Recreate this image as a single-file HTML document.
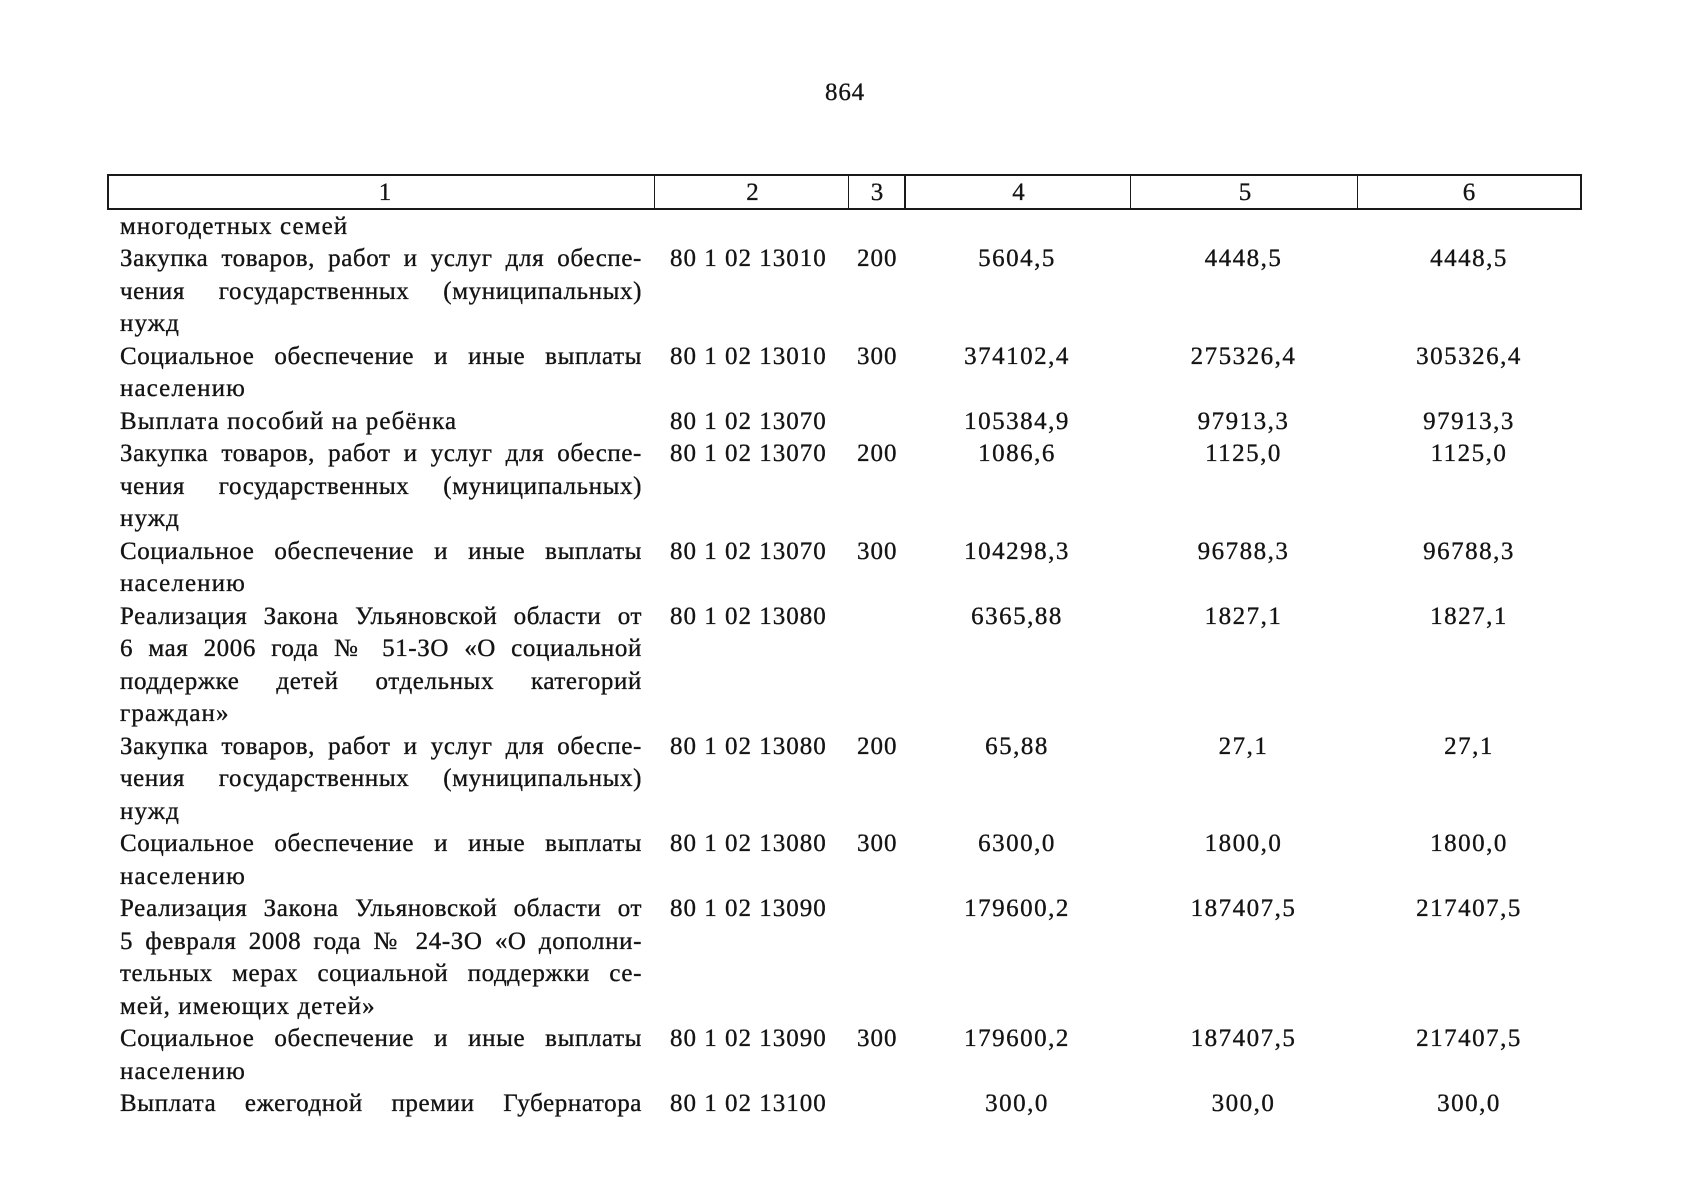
<!DOCTYPE html>
<html>
<head>
<meta charset="utf-8">
<style>
  html, body { margin:0; padding:0; background:#fff; }
  body { width:1698px; height:1200px; position:relative; overflow:hidden;
         font-family:"Liberation Serif", "Noto Serif CJK SC", serif; color:#141414; }
  .pn { position:absolute; left:795px; width:100px; top:77px; line-height:32px; font-size:25px; text-align:center; letter-spacing:0.8px; -webkit-text-stroke:0.3px #141414; }
  .ln { position:absolute; background:#1a1a1a; }
  .h { position:absolute; top:177px; height:32px; line-height:32px; font-size:25px; text-align:center; -webkit-text-stroke:0.3px #141414; }
  .r { position:absolute; left:0; width:1698px; height:32.5px; line-height:32.5px; font-size:25px; -webkit-text-stroke:0.35px #141414; }
  .r span { position:absolute; top:0; white-space:nowrap; }
  .r .t { left:120px; width:522px; letter-spacing:1.1px; }
  .r .t.j { text-align:justify; text-align-last:justify; letter-spacing:0.6px; white-space:normal; }
  .r .c2 { left:670px; letter-spacing:1.0px; }
  .r .c3 { left:857px; letter-spacing:1.0px; }
  .r .c4 { left:904px; width:226px; text-align:center; letter-spacing:1.5px; }
  .r .c5 { left:1130px; width:227px; text-align:center; letter-spacing:1.5px; }
  .r .c6 { left:1357px; width:224px; text-align:center; letter-spacing:1.5px; }
</style>
</head>
<body>
<div class="pn">864</div>

<!-- header table lines -->
<div class="ln" style="left:107px; top:174px; width:1474px; height:2px;"></div>
<div class="ln" style="left:107px; top:207.5px; width:1474px; height:2px;"></div>
<div class="ln" style="left:106.5px; top:174px; width:2px; height:35.5px;"></div>
<div class="ln" style="left:1579.5px; top:174px; width:2px; height:35.5px;"></div>
<div class="ln" style="left:653.5px; top:175px; width:1.5px; height:34px;"></div>
<div class="ln" style="left:847.5px; top:175px; width:1.5px; height:34px;"></div>
<div class="ln" style="left:904px; top:175px; width:1.5px; height:34px;"></div>
<div class="ln" style="left:1129.5px; top:175px; width:1.5px; height:34px;"></div>
<div class="ln" style="left:1356.5px; top:175px; width:1.5px; height:34px;"></div>

<div class="h" style="left:112px; width:546px;">1</div>
<div class="h" style="left:656px; width:193px;">2</div>
<div class="h" style="left:849px; width:56px;">3</div>
<div class="h" style="left:906px; width:225px;">4</div>
<div class="h" style="left:1132px; width:226px;">5</div>
<div class="h" style="left:1358px; width:222px;">6</div>

<div class="r" style="top:210.6px"><span class="t">многодетных семей</span></div>
<div class="r" style="top:243.1px"><span class="t j">Закупка товаров, работ и услуг для обеспе-</span><span class="c2">80 1 02 13010</span><span class="c3">200</span><span class="c4">5604,5</span><span class="c5">4448,5</span><span class="c6">4448,5</span></div>
<div class="r" style="top:275.6px"><span class="t j">чения государственных (муниципальных)</span></div>
<div class="r" style="top:308.1px"><span class="t">нужд</span></div>
<div class="r" style="top:340.6px"><span class="t j">Социальное обеспечение и иные выплаты</span><span class="c2">80 1 02 13010</span><span class="c3">300</span><span class="c4">374102,4</span><span class="c5">275326,4</span><span class="c6">305326,4</span></div>
<div class="r" style="top:373.1px"><span class="t">населению</span></div>
<div class="r" style="top:405.6px"><span class="t">Выплата пособий на ребёнка</span><span class="c2">80 1 02 13070</span><span class="c4">105384,9</span><span class="c5">97913,3</span><span class="c6">97913,3</span></div>
<div class="r" style="top:438.1px"><span class="t j">Закупка товаров, работ и услуг для обеспе-</span><span class="c2">80 1 02 13070</span><span class="c3">200</span><span class="c4">1086,6</span><span class="c5">1125,0</span><span class="c6">1125,0</span></div>
<div class="r" style="top:470.6px"><span class="t j">чения государственных (муниципальных)</span></div>
<div class="r" style="top:503.1px"><span class="t">нужд</span></div>
<div class="r" style="top:535.6px"><span class="t j">Социальное обеспечение и иные выплаты</span><span class="c2">80 1 02 13070</span><span class="c3">300</span><span class="c4">104298,3</span><span class="c5">96788,3</span><span class="c6">96788,3</span></div>
<div class="r" style="top:568.1px"><span class="t">населению</span></div>
<div class="r" style="top:600.6px"><span class="t j">Реализация Закона Ульяновской области от</span><span class="c2">80 1 02 13080</span><span class="c4">6365,88</span><span class="c5">1827,1</span><span class="c6">1827,1</span></div>
<div class="r" style="top:633.1px"><span class="t j">6 мая 2006 года №&nbsp;51-ЗО «О социальной</span></div>
<div class="r" style="top:665.6px"><span class="t j">поддержке детей отдельных категорий</span></div>
<div class="r" style="top:698.1px"><span class="t">граждан»</span></div>
<div class="r" style="top:730.6px"><span class="t j">Закупка товаров, работ и услуг для обеспе-</span><span class="c2">80 1 02 13080</span><span class="c3">200</span><span class="c4">65,88</span><span class="c5">27,1</span><span class="c6">27,1</span></div>
<div class="r" style="top:763.1px"><span class="t j">чения государственных (муниципальных)</span></div>
<div class="r" style="top:795.6px"><span class="t">нужд</span></div>
<div class="r" style="top:828.1px"><span class="t j">Социальное обеспечение и иные выплаты</span><span class="c2">80 1 02 13080</span><span class="c3">300</span><span class="c4">6300,0</span><span class="c5">1800,0</span><span class="c6">1800,0</span></div>
<div class="r" style="top:860.6px"><span class="t">населению</span></div>
<div class="r" style="top:893.1px"><span class="t j">Реализация Закона Ульяновской области от</span><span class="c2">80 1 02 13090</span><span class="c4">179600,2</span><span class="c5">187407,5</span><span class="c6">217407,5</span></div>
<div class="r" style="top:925.6px"><span class="t j">5 февраля 2008 года №&nbsp;24-ЗО «О дополни-</span></div>
<div class="r" style="top:958.1px"><span class="t j">тельных мерах социальной поддержки се-</span></div>
<div class="r" style="top:990.6px"><span class="t">мей, имеющих детей»</span></div>
<div class="r" style="top:1023.1px"><span class="t j">Социальное обеспечение и иные выплаты</span><span class="c2">80 1 02 13090</span><span class="c3">300</span><span class="c4">179600,2</span><span class="c5">187407,5</span><span class="c6">217407,5</span></div>
<div class="r" style="top:1055.6px"><span class="t">населению</span></div>
<div class="r" style="top:1088.1px"><span class="t j">Выплата ежегодной премии Губернатора</span><span class="c2">80 1 02 13100</span><span class="c4">300,0</span><span class="c5">300,0</span><span class="c6">300,0</span></div>
</body>
</html>
